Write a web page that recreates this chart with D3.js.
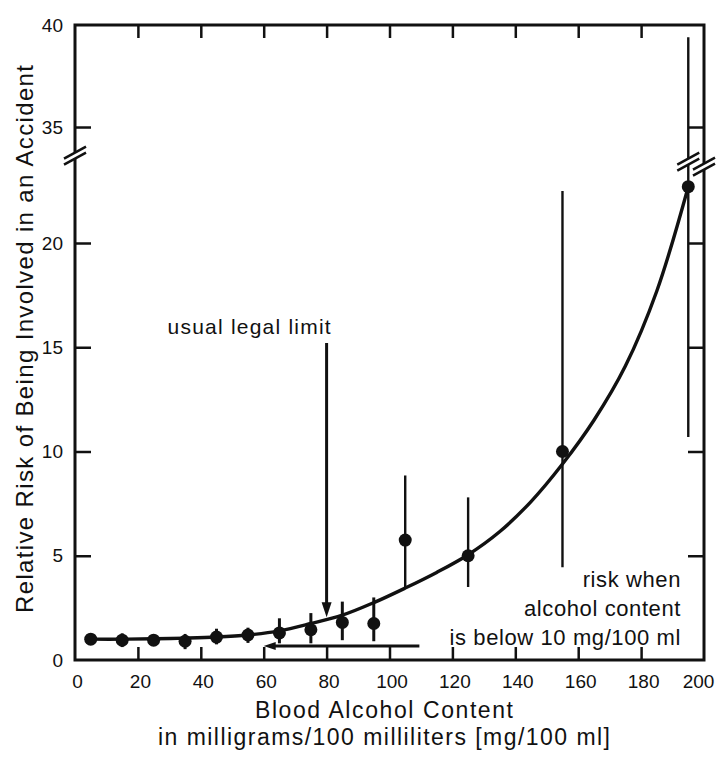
<!DOCTYPE html>
<html>
<head>
<meta charset="utf-8">
<script src="https://cdn.jsdelivr.net/npm/d3@7"></script>
<style>
    body { margin: 0; background: #fff; }
    #risk-chart text { font-family: "Liberation Sans", Arial, Helvetica, sans-serif; fill: #111; }
</style>
</head>
<body>
<div id="risk-chart"></div>
<script>
// blood alcohol content of each group, mg/100 ml
var bacLevels = [5, 15, 25, 35, 45, 55, 65, 75, 85, 95, 105, 125, 155, 195];
// relative risk of an accident and its error bar
var relativeRisk = [1.0, 0.95, 0.95, 0.9, 1.1, 1.2, 1.3, 1.45, 1.8, 1.75, 5.75, 5.0, 10.0, 22.7];
var riskLow = [1.0, 0.62, 0.68, 0.52, 0.75, 0.82, 0.8, 0.8, 0.95, 0.9, 3.5, 3.5, 4.45, 10.7];
var riskHigh = [1.0, 1.28, 1.22, 1.25, 1.5, 1.55, 2.0, 2.25, 2.8, 3.0, 8.85, 7.8, 22.5, 39.4];

// fitted curve
var curveBac = [5, 15, 25, 35, 45, 55, 65, 75, 85, 95, 105, 115, 125, 135, 145, 155, 165, 175, 185, 195];
var curveRisk = [1.0, 1.0, 1.02, 1.05, 1.1, 1.2, 1.4, 1.75, 2.15, 2.75, 3.45, 4.2, 5.05, 6.15, 7.6, 9.4, 11.5, 14.1, 17.7, 22.7];

// tick labels
var xTickValues = [0, 20, 40, 60, 80, 100, 120, 140, 160, 180, 200];
var xInnerTicks = [20, 40, 60, 80, 100, 120, 140, 160, 180];
var yTickValues = [0, 5, 10, 15, 20, 35, 40];
var yInnerTicks = [5, 10, 15, 20, 35];

// annotations
var legalLimit = 80;
var legalArrowRisk = [15.2, 2.05];
var baseArrowBac = [109.5, 60];
var baseArrowRisk = 0.67;
var baseNote = ["risk when", "alcohol content", "is below 10 mg/100 ml"];

/**
 * Constructor for the risk chart
 */
function RiskChart() {
    var self = this;
    self.init();
};

/**
 * Sets up the svg and the scales
 */
RiskChart.prototype.init = function () {
    var self = this;
    self.width = 718;
    self.height = 757;

    self.svg = d3.select("#risk-chart").append("svg")
        .attr("width", self.width)
        .attr("height", self.height);

    self.xScale = d3.scaleLinear().domain([0, 200]).range([75, 704]);
    // broken axis: 24 .. 33.8 squeezed into a few pixels
    self.yScale = d3.scaleLinear()
        .domain([0, 24, 33.8, 40])
        .range([660, 159.6, 151.5, 25]);
};

/**
 * Draws a pair of slashes over a line at the axis break
 */
RiskChart.prototype.breakMark = function (cx, cy) {
    var self = this;
    self.svg.append("rect")
        .attr("x", cx - 4).attr("y", cy - 3)
        .attr("width", 8).attr("height", 6)
        .attr("fill", "#fff");
    [-3, 3].forEach(function (o) {
        self.svg.append("line")
            .attr("x1", cx - 11).attr("y1", cy + o + 6)
            .attr("x2", cx + 11).attr("y2", cy + o - 6)
            .attr("stroke", "#111")
            .attr("stroke-width", 2.5);
    });
};

RiskChart.prototype.update = function () {
    var self = this;
    var x = self.xScale, y = self.yScale;
    var left = x(0), right = x(200), top = y(40), bottom = y(0);

    // inward ticks on all four sides
    var tickStyle = function (g) {
        g.select(".domain").remove();
        g.selectAll(".tick line").attr("stroke", "#111").attr("stroke-width", 2.5);
        g.selectAll(".tick text").style("font-size", "19px").attr("fill", "#111");
    };

    var xLabels = self.svg.append("g")
        .attr("transform", "translate(0," + bottom + ")")
        .call(d3.axisBottom(x).tickValues(xTickValues).tickSize(0).tickPadding(15))
        .call(tickStyle);
    // last label sits a bit inside the page edge
    xLabels.selectAll(".tick text")
        .attr("dx", function (d) { return d === 200 ? -6 : 2; });

    self.svg.append("g")
        .attr("transform", "translate(0," + bottom + ")")
        .call(d3.axisBottom(x).tickValues(xInnerTicks).tickSize(-13).tickFormat(""))
        .call(tickStyle);
    self.svg.append("g")
        .attr("transform", "translate(0," + top + ")")
        .call(d3.axisTop(x).tickValues(xInnerTicks).tickSize(-13).tickFormat(""))
        .call(tickStyle);
    self.svg.append("g")
        .attr("transform", "translate(" + left + ",0)")
        .call(d3.axisLeft(y).tickValues(yTickValues).tickSize(0).tickPadding(12))
        .call(tickStyle);
    self.svg.append("g")
        .attr("transform", "translate(" + left + ",0)")
        .call(d3.axisLeft(y).tickValues(yInnerTicks).tickSize(-16).tickFormat(""))
        .call(tickStyle);
    self.svg.append("g")
        .attr("transform", "translate(" + right + ",0)")
        .call(d3.axisRight(y).tickValues(yInnerTicks).tickSize(-16).tickFormat(""))
        .call(tickStyle);

    // frame
    self.svg.append("rect")
        .attr("x", left).attr("y", top)
        .attr("width", right - left).attr("height", bottom - top)
        .attr("fill", "none")
        .attr("stroke", "#111")
        .attr("stroke-width", 3);

    var data = bacLevels.map(function (d, i) {
        return { bac: d, risk: relativeRisk[i], lo: riskLow[i], hi: riskHigh[i] };
    });

    // error bars
    self.svg.selectAll("line.err")
        .data(data.filter(function (d) { return d.hi > d.lo; }))
        .enter()
        .append("line")
        .attr("class", "err")
        .attr("x1", function (d) { return x(d.bac); })
        .attr("x2", function (d) { return x(d.bac); })
        .attr("y1", function (d) { return y(d.lo); })
        .attr("y2", function (d) { return y(d.hi); })
        .attr("stroke", "#111")
        .attr("stroke-width", function (d) { return d.bac < 100 ? 3 : 2.4; });

    // fitted curve
    var line = d3.line()
        .x(function (d) { return x(d[0]); })
        .y(function (d) { return y(d[1]); })
        .curve(d3.curveCatmullRom);
    self.svg.append("path")
        .datum(d3.zip(curveBac, curveRisk))
        .attr("d", line)
        .attr("fill", "none")
        .attr("stroke", "#111")
        .attr("stroke-width", 3.4);

    self.svg.selectAll("circle")
        .data(data)
        .enter()
        .append("circle")
        .attr("cx", function (d) { return x(d.bac); })
        .attr("cy", function (d) { return y(d.risk); })
        .attr("r", 6.5)
        .attr("fill", "#111");

    // axis breaks
    var breakY = (y(24) + y(33.8)) / 2;
    self.breakMark(left, breakY);
    self.breakMark(x(195), breakY + 6);
    self.breakMark(right, breakY + 11);

    // legal limit arrow
    var lx = x(legalLimit), ly1 = y(legalArrowRisk[0]), ly2 = y(legalArrowRisk[1]);
    self.svg.append("line")
        .attr("x1", lx).attr("y1", ly1)
        .attr("x2", lx).attr("y2", ly2 - 10)
        .attr("stroke", "#111").attr("stroke-width", 3);
    self.svg.append("path")
        .attr("d", "M" + (lx - 5) + "," + (ly2 - 15) + "L" + (lx + 5) + "," + (ly2 - 15) + "L" + lx + "," + ly2 + "Z")
        .attr("fill", "#111");
    self.svg.append("text")
        .attr("x", lx + 4).attr("y", ly1 - 9)
        .attr("text-anchor", "end")
        .attr("textLength", 163)
        .style("font-size", "21px")
        .text("usual legal limit");

    // baseline risk arrow
    var bx1 = x(baseArrowBac[0]), bx2 = x(baseArrowBac[1]), by = y(baseArrowRisk);
    self.svg.append("line")
        .attr("x1", bx1).attr("y1", by)
        .attr("x2", bx2 + 8).attr("y2", by)
        .attr("stroke", "#111").attr("stroke-width", 3);
    self.svg.append("path")
        .attr("d", "M" + bx2 + "," + by + "L" + (bx2 + 12) + "," + (by - 4) + "L" + (bx2 + 12) + "," + (by + 4) + "Z")
        .attr("fill", "#111");

    self.svg.selectAll("text.note")
        .data(baseNote)
        .enter()
        .append("text")
        .attr("class", "note")
        .attr("x", 681)
        .attr("y", function (d, i) { return 587 + i * 29; })
        .attr("text-anchor", "end")
        .style("font-size", "22px")
        .style("letter-spacing", "0.6px")
        .text(function (d) { return d; });

    // axis titles
    self.svg.append("text")
        .attr("x", 384).attr("y", 718)
        .attr("text-anchor", "middle")
        .attr("textLength", 258)
        .style("font-size", "23px")
        .text("Blood Alcohol Content");
    self.svg.append("text")
        .attr("x", 384).attr("y", 745)
        .attr("text-anchor", "middle")
        .attr("textLength", 452)
        .style("font-size", "23px")
        .text("in milligrams/100 milliliters [mg/100 ml]");
    self.svg.append("text")
        .attr("transform", "translate(33,339) rotate(-90)")
        .attr("text-anchor", "middle")
        .attr("textLength", 548)
        .style("font-size", "24px")
        .text("Relative Risk of Being Involved in an Accident");
};

var chart = new RiskChart();
chart.update();
</script>
</body>
</html>
